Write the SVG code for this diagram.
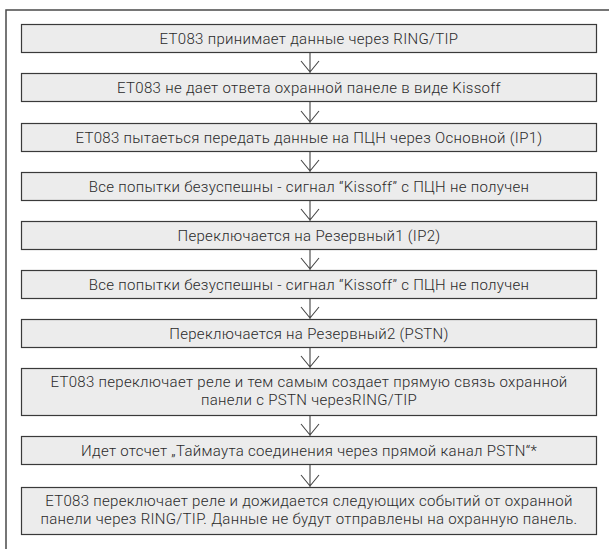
<svg xmlns="http://www.w3.org/2000/svg" width="609" height="549" viewBox="0 0 609 549">
<style>
.box rect{fill:#ececec;stroke:#3a3a3a;stroke-width:1.2}
.box text{font-family:Roboto,"Open Sans",sans-serif;font-size:15px;font-weight:300;letter-spacing:0.3px;fill:#2a2a2a;text-anchor:middle}
.conn path{fill:none;stroke:#444;stroke-width:1.1}
</style>
<rect x="6" y="10" width="620" height="560" fill="#ffffff" stroke="#4a4a4a" stroke-width="1.5"/>
<g class="conn">
<path d="M310 52V73M301 61L310 72L319 61"/>
<path d="M310 102V123M301 111L310 122L319 111"/>
<path d="M310 151V172M301 160L310 171L319 160"/>
<path d="M310 201V221M301 209L310 220L319 209"/>
<path d="M310 249V270M301 258L310 269L319 258"/>
<path d="M310 299V319M301 307L310 318L319 307"/>
<path d="M310 347V368M301 356L310 367L319 356"/>
<path d="M310 415V436M301 424L310 435L319 424"/>
<path d="M310 464V487M301 475L310 486L319 475"/>
</g>
<g id="n1" class="box"><rect x="21.5" y="24.5" width="575" height="28"/><text x="309" y="43.5">ET083 принимает данные через RING/TIP</text></g>
<g id="n2" class="box"><rect x="21.5" y="73.5" width="575" height="28"/><text x="309" y="93">ET083 не дает ответа охранной панеле в виде Kissoff</text></g>
<g id="n3" class="box"><rect x="21.5" y="123.5" width="575" height="28"/><text x="309" y="142.5">ET083 пытаеться передать данные на ПЦН через Основной (IP1)</text></g>
<g id="n4" class="box"><rect x="21.5" y="172.5" width="575" height="28"/><text x="309" y="192">Все попытки безуспешны - сигнал “Kissoff” с ПЦН не получен</text></g>
<g id="n5" class="box"><rect x="21.5" y="221.5" width="575" height="28"/><text x="309" y="240.5">Переключается на Резервный1 (IP2)</text></g>
<g id="n6" class="box"><rect x="21.5" y="270.5" width="575" height="28"/><text x="309" y="290">Все попытки безуспешны - сигнал “Kissoff” с ПЦН не получен</text></g>
<g id="n7" class="box"><rect x="21.5" y="319.5" width="575" height="28"/><text x="309" y="338.5">Переключается на Резервный2 (PSTN)</text></g>
<g id="n8" class="box"><rect x="21.5" y="368.5" width="575" height="47"/><text x="309" y="386.5">ET083 переключает реле и тем самым создает прямую связь охранной</text><text x="309" y="404.5">панели с PSTN черезRING/TIP</text></g>
<g id="n9" class="box"><rect x="21.5" y="436.5" width="575" height="28"/><text x="309" y="455.5">Идет отсчет „Таймаута соединения через прямой канал PSTN“*</text></g>
<g id="n10" class="box"><rect x="21.5" y="487.5" width="575" height="47"/><text x="309" y="505.5">ET083 переключает реле и дожидается следующих событий от охранной</text><text x="309" y="523.5">панели через RING/TIP. Данные не будут отправлены на охранную панель.</text></g>
</svg>
